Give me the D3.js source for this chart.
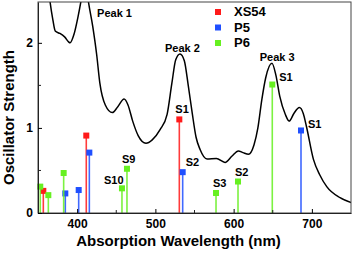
<!DOCTYPE html>
<html>
<head>
<meta charset="utf-8">
<script src="https://cdn.jsdelivr.net/npm/d3@7"></script>
<style>
  body { margin: 0; background: #fff; }
  svg { font-family: "Liberation Sans", Arial, sans-serif; font-weight: bold; }
</style>
</head>
<body>
<svg width="354" height="253"></svg>
<script>
// spectrum (absorption curve), nm / intensity
var specNm = [362, 365, 369, 372, 378, 384, 391, 396, 401, 406, 410, 414, 420, 425, 429, 436, 445, 452, 460, 465, 471, 478, 488, 496, 506, 515, 521, 526, 531.5, 537, 542, 547, 552, 557, 566, 578, 589, 598, 606, 612, 619, 626, 631, 636, 641, 649, 654, 659, 666, 671, 677, 684, 689, 693, 702, 710, 719, 736, 751];
var specVal = [2.75, 2.51, 2.27, 2.14, 2.11, 2.07, 2.00, 2.10, 2.30, 2.55, 2.80, 2.51, 2.19, 1.86, 1.53, 1.27, 1.18, 1.25, 1.34, 1.27, 1.08, 0.91, 0.82, 0.86, 0.98, 1.16, 1.52, 1.80, 1.87, 1.79, 1.50, 1.18, 0.89, 0.75, 0.635, 0.64, 0.595, 0.67, 0.73, 0.71, 0.69, 0.80, 1.00, 1.33, 1.59, 1.76, 1.62, 1.37, 1.16, 1.08, 1.17, 1.24, 1.17, 1.02, 0.63, 0.45, 0.31, 0.18, 0.12];

// oscillator strengths (sticks)
var xs54Nm = [356.8, 411.7, 530.6];
var xs54Val = [0.26, 0.91, 1.10];
var p5Nm = [384.9, 402, 415.6, 534.9, 686.1];
var p5Val = [0.23, 0.27, 0.71, 0.48, 0.97];
var p6Nm = [352.9, 363.2, 382.8, 457.3, 463.7, 577.5, 605.6, 649.4];
var p6Val = [0.31, 0.21, 0.47, 0.29, 0.52, 0.235, 0.37, 1.51];

var seriesNames = ["XS54", "P5", "P6"];
var seriesColors = ["#ff1a1a", "#1f4fff", "#66f020"];

var xTicks = [400, 500, 600, 700];
var xMinor = [450, 550, 650];
var yTicks = [0, 1, 2];
var yMinor = [0.5, 1.5];

// state labels: text, nm, value
var stateText = ["S1", "S2", "S3", "S2", "S1", "S1", "S10", "S9"];
var stateNm = [530.6, 534.9, 577.5, 605.6, 649.4, 686.1, 457.3, 463.7];
var stateVal = [1.10, 0.48, 0.235, 0.37, 1.51, 0.97, 0.29, 0.52];
var peakText = ["Peak 1", "Peak 2", "Peak 3"];
var peakNm = [423, 531.5, 648.7];
var peakVal = [2.30, 1.87, 1.76];

var m = {left: 38, right: 351, top: 2, bottom: 213};

var x = d3.scaleLinear().domain([350, 750]).range([m.left, m.right]);
var y = d3.scaleLinear().domain([0, 2.48]).range([m.bottom, m.top]);

var svg = d3.select("svg");

svg.append("clipPath").attr("id", "clip")
  .append("rect").attr("x", m.left).attr("y", m.top)
  .attr("width", m.right - m.left).attr("height", m.bottom - m.top);

// sticks
var sticks = [
  {nm: xs54Nm, val: xs54Val, c: seriesColors[0]},
  {nm: p5Nm, val: p5Val, c: seriesColors[1]},
  {nm: p6Nm, val: p6Val, c: seriesColors[2]}
];
sticks.forEach(function(s) {
  var g = svg.append("g");
  g.selectAll("line").data(s.nm).enter().append("line")
    .attr("x1", d => x(d)).attr("x2", d => x(d))
    .attr("y1", y(0)).attr("y2", (d, i) => y(s.val[i]))
    .attr("stroke", s.c).attr("stroke-width", 1.6).attr("opacity", 0.85);
  g.selectAll("rect").data(s.nm).enter().append("rect")
    .attr("x", d => x(d) - 3).attr("y", (d, i) => y(s.val[i]) - 3)
    .attr("width", 6).attr("height", 6).attr("fill", s.c);
});

// spectrum
var line = d3.line()
  .x((d, i) => x(specNm[i]))
  .y(d => y(d))
  .curve(d3.curveMonotoneX);
svg.append("path")
  .attr("clip-path", "url(#clip)")
  .attr("d", line(specVal))
  .attr("fill", "none").attr("stroke", "#000").attr("stroke-width", 1.5);

// frame
svg.append("rect").attr("x", m.left).attr("y", m.top)
  .attr("width", m.right - m.left).attr("height", m.bottom - m.top)
  .attr("fill", "none").attr("stroke", "#444").attr("stroke-width", 1);

// x axis
var xAxis = d3.axisBottom(x).tickValues(xTicks).tickSize(-4).tickSizeOuter(0).tickPadding(6);
var gx = svg.append("g").attr("transform", "translate(0," + m.bottom + ")").call(xAxis);
gx.select(".domain").attr("stroke", "#222");
gx.selectAll("text").attr("font-size", 12).attr("font-weight", "bold").attr("font-family", "Liberation Sans, Arial").attr("fill", "#000");
gx.selectAll(".minor").data(xMinor).enter().append("line").attr("class", "minor")
  .attr("x1", d => x(d)).attr("x2", d => x(d)).attr("y1", 0).attr("y2", -3).attr("stroke", "#222");

// y axis
var yAxis = d3.axisLeft(y).tickValues(yTicks).tickFormat(d3.format("d"))
  .tickSize(-4).tickSizeOuter(0).tickPadding(5);
var gy = svg.append("g").attr("transform", "translate(" + m.left + ",0)").call(yAxis);
gy.select(".domain").attr("stroke", "#222");
gy.selectAll("text").attr("font-size", 12).attr("font-weight", "bold").attr("font-family", "Liberation Sans, Arial").attr("fill", "#000");
gy.selectAll(".minor").data(yMinor).enter().append("line").attr("class", "minor")
  .attr("y1", d => y(d)).attr("y2", d => y(d)).attr("x1", 0).attr("x2", 3).attr("stroke", "#222");

// axis titles
svg.append("text").attr("x", (m.left + m.right) / 2 - 16).attr("y", 246)
  .attr("text-anchor", "middle").attr("font-size", 15)
  .text("Absorption Wavelength (nm)");
svg.append("text").attr("transform", "translate(14," + ((m.top + m.bottom) / 2 + 10) + ") rotate(-90)")
  .attr("text-anchor", "middle").attr("font-size", 15)
  .text("Oscillator Strength");

// legend
var leg = svg.append("g").attr("transform", "translate(218,12)");
seriesNames.forEach(function(n, i) {
  leg.append("rect").attr("x", -3).attr("y", i * 15.5 - 3).attr("width", 6).attr("height", 6).attr("fill", seriesColors[i]);
  leg.append("text").attr("x", 16).attr("y", i * 15.5 + 4).attr("font-size", 13).text(n);
});

// peak labels
var peakDx = [2, -15, -12], peakDy = [0, -2, -2];
peakText.forEach(function(t, i) {
  svg.append("text").attr("x", x(peakNm[i]) + peakDx[i]).attr("y", y(peakVal[i]) + peakDy[i])
    .attr("font-size", 11).text(t);
});

// state labels
var sDx = [-4, 3, -3, -3, 7, 7, -18, -5], sDy = [-6, -6, -6, -6, -4, -2, -4, -6];
stateText.forEach(function(t, i) {
  svg.append("text").attr("x", x(stateNm[i]) + sDx[i]).attr("y", y(stateVal[i]) + sDy[i])
    .attr("font-size", 11).text(t);
});
</script>
</body>
</html>
